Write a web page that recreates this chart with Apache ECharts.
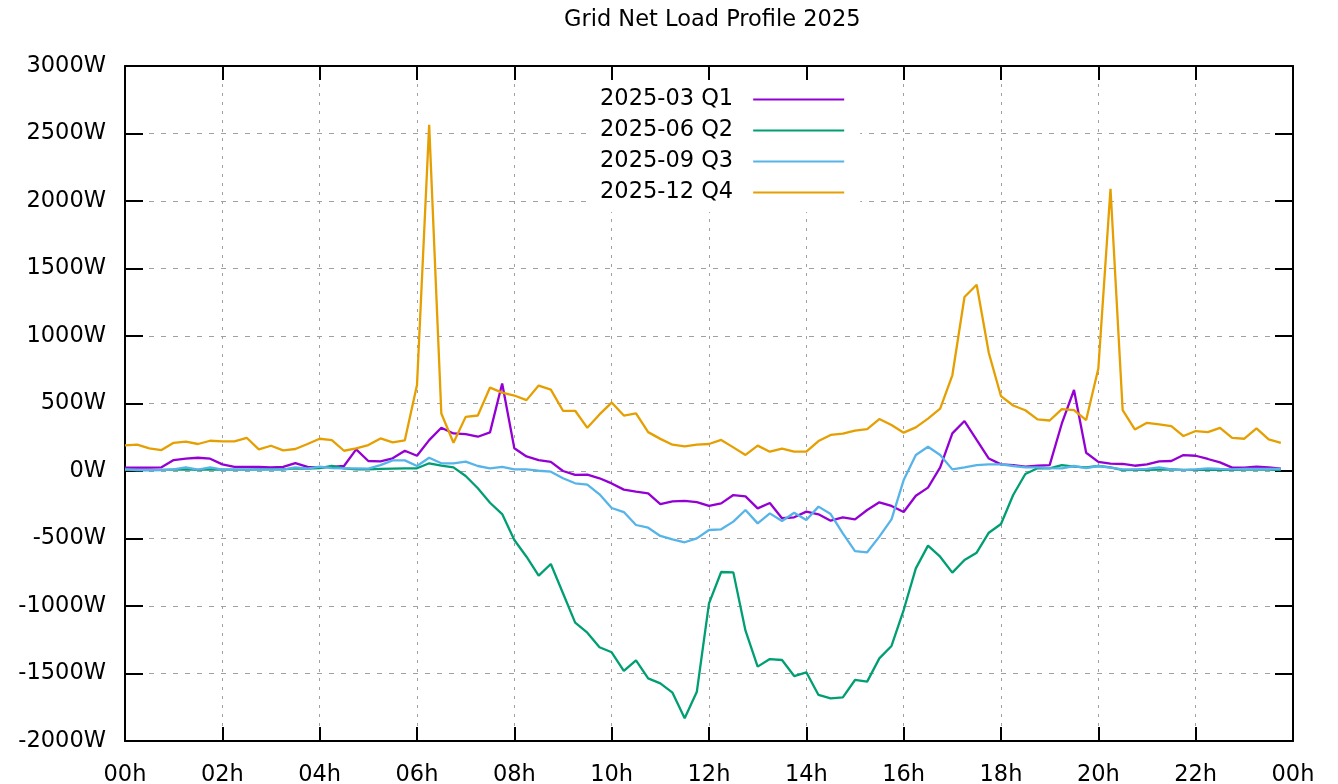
<!DOCTYPE html>
<html>
<head>
<meta charset="utf-8">
<title>Grid Net Load Profile 2025</title>
<script src="https://cdn.jsdelivr.net/npm/echarts@6/dist/echarts.min.js"></script>
<style>
  html, body { margin: 0; padding: 0; background: #fff; }
  #chart { width: 1338px; height: 784px; }
</style>
</head>
<body>
<div id="chart"></div>
<script>
// 15-minute slots over one day (index 0 = 00:00, 95 = 23:45)
const seriesNames = ['2025-03 Q1', '2025-06 Q2', '2025-09 Q3', '2025-12 Q4']
const seriesColors = ['#9400D3', '#009E73', '#56B4E9', '#E69F00']

const q1 = [
  25, 25, 25, 27, 81, 91, 98, 91, 49, 30, 30, 30, 27, 30, 59, 30,
  27, 30, 37, 160, 74, 71, 94, 150, 113, 229, 320, 278, 273, 254, 286, 648,
  168, 108, 81, 68, 0, -28, -27, -54, -92, -138, -153, -165, -245, -225, -222, -230,
  -259, -240, -178, -188, -277, -237, -350, -343, -301, -321, -368, -343, -358, -289, -232, -259,
  -304, -183, -123, 27, 279, 370, 230, 92, 49, 44, 32, 39, 44, 352, 600, 135,
  67, 54, 52, 39, 49, 71, 74, 118, 113, 89, 64, 25, 25, 32, 27, 17
]
const q2 = [
  8, 7, 7, 8, 10, 12, 8, 12, 10, 10, 10, 12, 12, 12, 20, 17,
  22, 37, 20, 12, 12, 15, 18, 20, 20, 57, 39, 27, -37, -128, -235, -319,
  -511, -635, -775, -689, -906, -1123, -1198, -1306, -1343, -1481, -1402, -1536, -1573, -1642, -1832, -1635,
  -980, -748, -751, -1183, -1449, -1393, -1400, -1519, -1491, -1659, -1684, -1677, -1548, -1560, -1388, -1296,
  -1030, -721, -553, -635, -753, -659, -605, -457, -393, -178, -22, 20, 20, 44, 32, 27,
  37, 27, 7, 8, 8, 10, 12, 8, 8, 10, 8, 8, 10, 10, 10, 7
]
const q3 = [
  12, 7, 7, 7, 12, 27, 10, 27, 10, 10, 10, 10, 10, 10, 27, 17,
  32, 22, 20, 20, 17, 44, 79, 79, 37, 98, 57, 57, 69, 37, 20, 30,
  12, 12, 2, -5, -54, -91, -101, -173, -274, -304, -400, -420, -481, -506, -528, -499,
  -437, -432, -375, -289, -388, -314, -370, -309, -363, -264, -319, -462, -593, -602, -486, -358,
  -67, 119, 180, 119, 12, 27, 44, 49, 49, 37, 27, 27, 22, 20, 37, 22,
  37, 25, 12, 12, 15, 27, 12, 7, 12, 20, 15, 12, 15, 15, 15, 15
]
const q4 = [
  190, 195, 167, 155, 209, 217, 200, 224, 219, 219, 246, 160, 187, 153, 163, 200,
  239, 229, 150, 167, 192, 241, 212, 227, 637, 2564, 426, 209, 401, 411, 618, 581,
  559, 525, 633, 603, 446, 446, 320, 419, 507, 411, 426, 288, 238, 195, 183, 195,
  200, 230, 175, 119, 188, 143, 165, 143, 143, 222, 267, 277, 299, 311, 385, 341,
  284, 323, 388, 462, 709, 1289, 1380, 874, 554, 485, 450, 382, 374, 458, 451, 377,
  759, 2091, 451, 308, 357, 345, 333, 259, 296, 288, 320, 246, 239, 315, 234, 209
]

const hourTicks = 2 // label every 2 hours
const yMin = -2000
const yMax = 3000
const yStep = 500

const font = 'DejaVu Sans'
const fontSize = 22.5

function toPoints(values) {
  return values.map((v, i) => [i * 0.25, v])
}

function hourLabel(v) {
  const h = Math.round(v) % 24
  return (h < 10 ? '0' : '') + h + 'h'
}

const chart = echarts.init(document.getElementById('chart'))

const baseX = {
  type: 'value',
  min: 0,
  max: 24,
  interval: hourTicks,
  axisLine: { show: true, onZero: false, lineStyle: { color: '#000', width: 2 } },
  axisTick: { show: true, inside: true, length: 14, lineStyle: { color: '#000', width: 2 } }
}
const baseY = {
  type: 'value',
  min: yMin,
  max: yMax,
  interval: yStep,
  axisLine: { show: true, onZero: false, lineStyle: { color: '#000', width: 2 } },
  axisTick: { show: true, inside: true, length: 18, lineStyle: { color: '#000', width: 2 } }
}

chart.setOption({
  animation: false,
  backgroundColor: '#fff',
  title: {
    // centred over the plot area, not the whole canvas
    text: 'Grid Net Load Profile 2025',
    left: 559,
    top: 4,
    textStyle: { fontFamily: font, fontSize: fontSize, fontWeight: 'normal', color: '#000' }
  },
  legend: {
    orient: 'vertical',
    left: 588,
    top: 82,
    align: 'right',
    icon: 'rect',
    itemWidth: 91,
    itemHeight: 2,
    itemGap: 8,
    padding: [6, 16, 8, 12],
    backgroundColor: '#fff',
    textStyle: { fontFamily: font, fontSize: fontSize, color: '#000', padding: [0, 15, 0, 0] },
    data: seriesNames
  },
  grid: { left: 125, right: 45, top: 66, bottom: 43, outerBoundsMode: 'none' },
  xAxis: [
    Object.assign({}, baseX, {
      position: 'bottom',
      axisLabel: {
        show: true, margin: 23, formatter: hourLabel,
        fontFamily: font, fontSize: fontSize, color: '#000'
      },
      splitLine: { show: true, lineStyle: { color: '#a0a0a0', width: 1, type: [3, 6] } }
    }),
    Object.assign({}, baseX, {
      position: 'top',
      axisLabel: { show: false },
      splitLine: { show: false }
    })
  ],
  yAxis: [
    Object.assign({}, baseY, {
      position: 'left',
      axisLabel: {
        show: true, margin: 19, formatter: v => v + 'W',
        fontFamily: font, fontSize: fontSize, color: '#000'
      },
      splitLine: { show: true, lineStyle: { color: '#a0a0a0', width: 1, type: [5, 7] } }
    }),
    Object.assign({}, baseY, {
      position: 'right',
      axisLabel: { show: false },
      splitLine: { show: false }
    })
  ],
  series: [q1, q2, q3, q4].map((vals, i) => ({
    name: seriesNames[i],
    type: 'line',
    xAxisIndex: 0,
    yAxisIndex: 0,
    data: toPoints(vals),
    showSymbol: false,
    symbol: 'none',
    color: seriesColors[i],
    lineStyle: { color: seriesColors[i], width: 2.3 },
    z: 3
  }))
})
</script>
</body>
</html>
